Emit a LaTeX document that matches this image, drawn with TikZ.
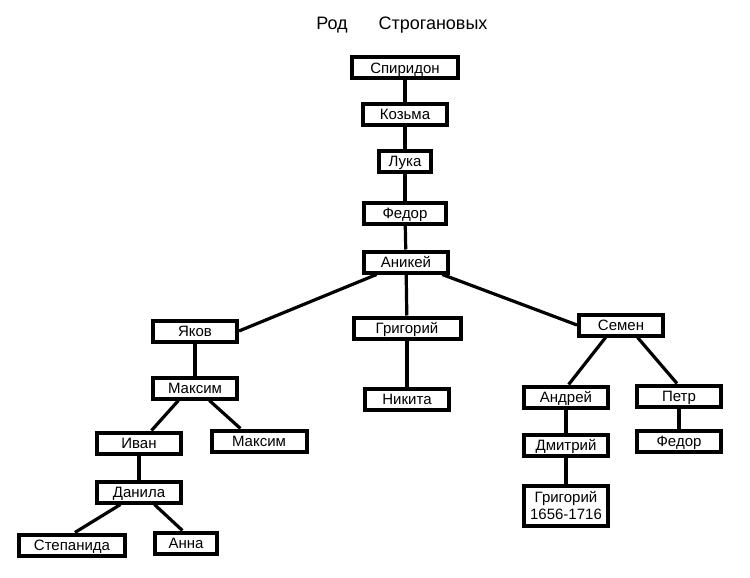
\documentclass[tikz,border=0pt]{standalone}
\usepackage{fontspec}
\setmainfont{Liberation Sans}
\begin{document}
\begin{tikzpicture}[x=1pt,y=-1pt,
  plainbox/.style={draw,line width=4pt,minimum width=84pt,minimum height=21pt,inner sep=0pt,
    font=\fontsize{15}{17}\selectfont},
  box/.style={plainbox,text height=10.8pt,text depth=0pt},
  link/.style={line width=3.2pt}]
\useasboundingbox (0,0) rectangle (750,578);

\node[anchor=base,font=\fontsize{18}{20}\selectfont] (rod) at (332,30) {Род};
\node[anchor=base,font=\fontsize{18}{20}\selectfont] (strog) at (433,30) {Строгановых};

\node[box,minimum width=106pt] (spiridon) at (405,68) {Спиридон};
\node[box] (kozma) at (405,114) {Козьма};
\node[box,minimum width=52pt] (luka) at (405,161) {Лука};
\node[box,minimum width=82pt] (fedor) at (405,213) {Федор};
\node[box] (anikey) at (406,262) {Аникей};

\node[box] (yakov) at (195,331) {Яков};
\node[box,minimum width=107pt] (grigoriy) at (407,328) {Григорий};
\node[box] (semen) at (621,325) {Семен};

\node[box] (maksim) at (195,388) {Максим};
\node[box] (nikita) at (407,399) {Никита};
\node[box] (ivan) at (139,443) {Иван};
\node[box,minimum width=95pt] (maksimb) at (259,441) {Максим};
\node[box] (danila) at (139,492) {Данила};
\node[box,minimum width=106pt] (stepanida) at (72,545) {Степанида};
\node[box,minimum width=62pt] (anna) at (186,543) {Анна};

\node[box] (andrey) at (566,397) {Андрей};
\node[box] (petr) at (679,396) {Петр};
\node[box] (dmitriy) at (566,445) {Дмитрий};
\node[box] (fedorb) at (679,441) {Федор};
\node[plainbox,minimum height=40pt,align=center] (grigoriyb) at (566,506) {Григорий\\1656-1716};

% the line of descent
\draw[link] (spiridon) -- (kozma);
\draw[link] (kozma) -- (luka);
\draw[link] (luka) -- (fedor);
\draw[link] (fedor) -- (anikey);
\draw[link] (anikey.203) -- (yakov.east);
\draw[link] (anikey) -- (grigoriy);
\draw[link] (anikey.341) -- (semen.west);

\draw[link] (yakov) -- (maksim);
\draw[link] (grigoriy) -- (nikita);
\draw[link] (maksim.217) -- (ivan.45);
\draw[link] (maksim.319) -- (maksimb.146);
\draw[link] (ivan) -- (danila);
\draw[link] (danila.214) -- (stepanida.77);
\draw[link] (danila.321) -- (anna.106);

\draw[link] (semen.219) -- (andrey.78);
\draw[link] (semen.323) -- (petr.99);
\draw[link] (andrey) -- (dmitriy);
\draw[link] (dmitriy) -- (grigoriyb);
\draw[link] (petr) -- (fedorb);
\end{tikzpicture}
\end{document}
